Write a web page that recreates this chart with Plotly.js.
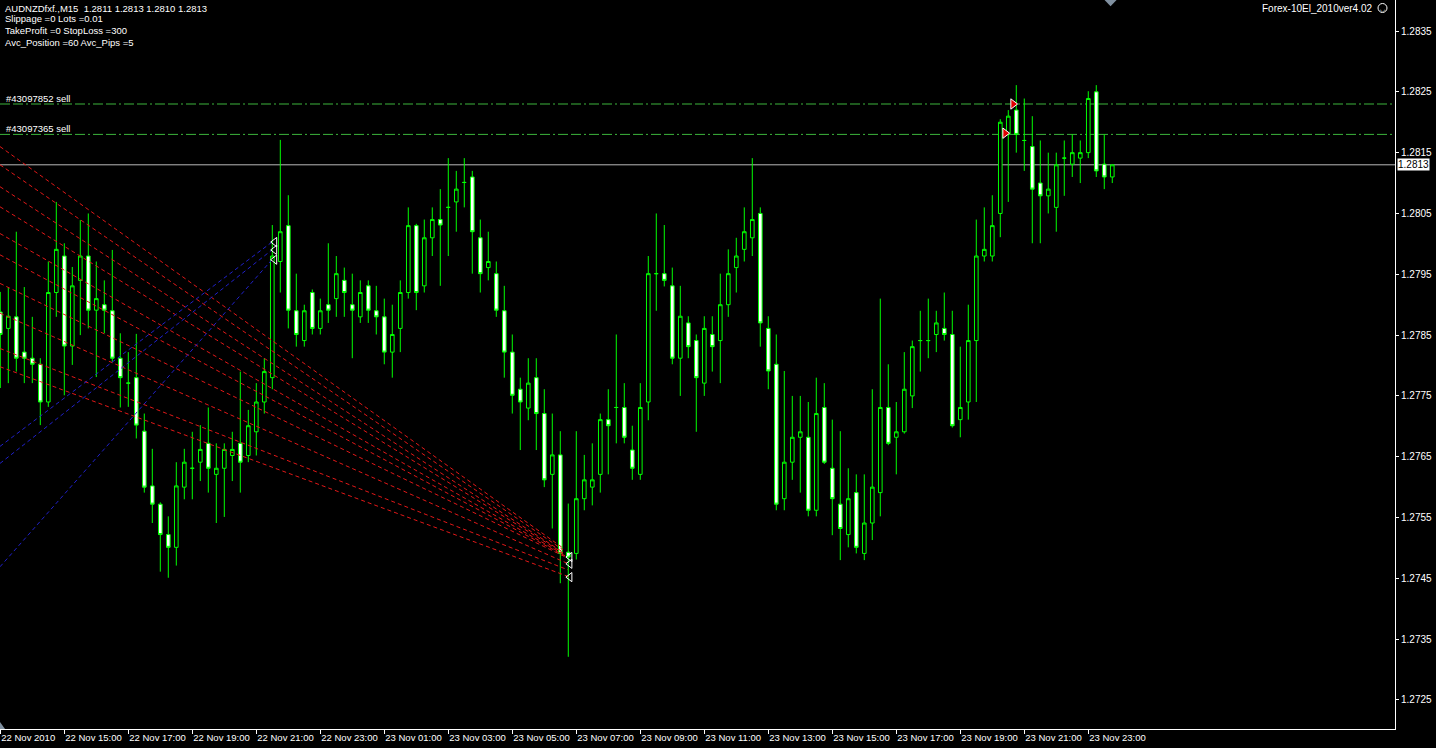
<!DOCTYPE html>
<html><head><meta charset="utf-8">
<script src="https://cdn.plot.ly/plotly-3.0.1.min.js"></script>
<style>html,body{margin:0;padding:0;background:#000;overflow:hidden}#chart{width:1436px;height:748px}</style>
</head><body><div id="chart"></div>
<script>
// ---- M15 candles, AUDNZDfxf., 22 Nov 13:00 .. 23 Nov 23:45 ----
const open = [1.27888,1.27861,1.27880,1.27822,1.27812,1.27802,1.27740,1.27920,1.27980,1.27832,
1.27940,1.27980,1.27891,1.27900,1.27890,1.27812,1.27771,1.27780,1.27692,1.27602,
1.27572,1.27522,1.27501,1.27600,1.27631,1.27641,1.27672,1.27621,1.27631,1.27652,
1.27672,1.27652,1.27691,1.27740,1.27780,1.27971,1.28030,1.27890,1.27841,1.27920,
1.27861,1.27900,1.27910,1.27940,1.27900,1.27880,1.27931,1.27890,1.27880,1.27822,
1.27861,1.27920,1.28030,1.27931,1.28010,1.28040,1.28060,1.28069,1.28101,1.28110,
1.28010,1.27961,1.27951,1.27890,1.27822,1.27761,1.27730,1.27780,1.27721,1.27621,
1.27653,1.27493,1.27491,1.27581,1.27600,1.27621,1.27711,1.27731,1.27731,1.27661,
1.27621,1.27740,1.27951,1.27951,1.27931,1.27812,1.27870,1.27841,1.27771,1.27851,
1.27841,1.27900,1.27961,1.27991,1.28010,1.28050,1.27861,1.27802,1.27581,1.27641,
1.27682,1.27682,1.27562,1.27731,1.27631,1.27572,1.27522,1.27591,1.27491,1.27541,
1.27591,1.27731,1.27682,1.27691,1.27750,1.27841,1.27841,1.27851,1.27861,1.27851,
1.27711,1.27740,1.27841,1.27980,1.27980,1.28050,1.28180,1.28220,1.28170,1.28160,
1.28100,1.28079,1.28060,1.28141,1.28131,1.28141,1.28150,1.28250,1.28131,1.28110];
const high = [1.27921,1.27929,1.28020,1.27929,1.27880,1.27812,1.27971,1.28069,1.28001,1.27962,
1.28039,1.28050,1.27971,1.27940,1.27990,1.27853,1.27822,1.27852,1.27721,1.27663,
1.27575,1.27552,1.27641,1.27663,1.27691,1.27702,1.27731,1.27672,1.27672,1.27691,
1.27790,1.27727,1.27771,1.27812,1.28031,1.28171,1.28080,1.27951,1.27900,1.27925,
1.27910,1.28001,1.27980,1.27961,1.27951,1.27940,1.27940,1.27931,1.27910,1.27900,
1.27940,1.28060,1.28033,1.28040,1.28060,1.28090,1.28141,1.28120,1.28141,1.28120,
1.28040,1.28020,1.27971,1.27931,1.27851,1.27780,1.27812,1.27812,1.27761,1.27721,
1.27692,1.27573,1.27692,1.27653,1.27672,1.27721,1.27761,1.27851,1.27771,1.27701,
1.27771,1.27980,1.28050,1.28031,1.27961,1.27931,1.27881,1.27851,1.27881,1.27881,
1.27951,1.27991,1.28010,1.28060,1.28141,1.28060,1.27881,1.27851,1.27791,1.27750,
1.27750,1.27740,1.27780,1.27771,1.27711,1.27692,1.27631,1.27621,1.27621,1.27761,
1.27910,1.27802,1.27740,1.27822,1.27841,1.27890,1.27910,1.27890,1.27920,1.27890,
1.27831,1.27900,1.28040,1.28060,1.28080,1.28205,1.28220,1.28261,1.28239,1.28210,
1.28170,1.28150,1.28150,1.28170,1.28180,1.28170,1.28251,1.28261,1.28180,1.28130];
const low = [1.27763,1.27771,1.27790,1.27771,1.27771,1.27702,1.27732,1.27880,1.27751,1.27801,
1.27850,1.27861,1.27781,1.27853,1.27806,1.27731,1.27732,1.27680,1.27591,1.27541,
1.27461,1.27451,1.27471,1.27580,1.27580,1.27610,1.27591,1.27541,1.27551,1.27610,
1.27591,1.27641,1.27652,1.27721,1.27761,1.27920,1.27861,1.27831,1.27831,1.27851,
1.27851,1.27870,1.27880,1.27880,1.27812,1.27870,1.27870,1.27851,1.27802,1.27780,
1.27822,1.27910,1.27891,1.27920,1.27980,1.27931,1.27980,1.28020,1.28060,1.27951,
1.27920,1.27940,1.27880,1.27780,1.27721,1.27661,1.27710,1.27661,1.27600,1.27532,
1.27442,1.27321,1.27481,1.27562,1.27570,1.27591,1.27621,1.27672,1.27672,1.27612,
1.27612,1.27710,1.27890,1.27930,1.27802,1.27750,1.27812,1.27691,1.27750,1.27790,
1.27771,1.27880,1.27920,1.27971,1.27980,1.27831,1.27761,1.27562,1.27562,1.27612,
1.27591,1.27552,1.27552,1.27638,1.27521,1.27480,1.27501,1.27491,1.27480,1.27513,
1.27552,1.27669,1.27621,1.27688,1.27730,1.27790,1.27812,1.27822,1.27841,1.27698,
1.27682,1.27711,1.27740,1.27971,1.27971,1.28011,1.28069,1.28150,1.28120,1.28001,
1.28001,1.28050,1.28020,1.28079,1.28110,1.28100,1.28141,1.28110,1.28090,1.28100];
const close = [1.27851,1.27881,1.27812,1.27812,1.27802,1.27740,1.27920,1.27991,1.27832,1.27931,
1.27980,1.27891,1.27910,1.27891,1.27812,1.27780,1.27771,1.27702,1.27600,1.27572,
1.27522,1.27501,1.27602,1.27641,1.27631,1.27662,1.27631,1.27631,1.27662,1.27662,
1.27641,1.27701,1.27740,1.27790,1.27980,1.28020,1.27891,1.27851,1.27890,1.27861,
1.27890,1.27891,1.27951,1.27920,1.27891,1.27920,1.27891,1.27880,1.27822,1.27851,
1.27920,1.28030,1.27920,1.28010,1.28040,1.28031,1.28060,1.28090,1.28101,1.28020,
1.27951,1.27971,1.27891,1.27822,1.27751,1.27740,1.27771,1.27721,1.27612,1.27653,
1.27491,1.27485,1.27581,1.27612,1.27612,1.27711,1.27701,1.27731,1.27682,1.27631,
1.27731,1.27951,1.27951,1.27940,1.27812,1.27881,1.27831,1.27780,1.27861,1.27831,
1.27900,1.27951,1.27980,1.28020,1.28040,1.27870,1.27791,1.27572,1.27641,1.27682,
1.27691,1.27562,1.27721,1.27641,1.27581,1.27532,1.27581,1.27501,1.27541,1.27600,
1.27731,1.27672,1.27691,1.27761,1.27831,1.27841,1.27841,1.27870,1.27851,1.27701,
1.27731,1.27841,1.27980,1.27991,1.28030,1.28200,1.28210,1.28180,1.28170,1.28090,
1.28079,1.28090,1.28130,1.28141,1.28150,1.28150,1.28239,1.28120,1.28110,1.28130];

// x-axis tick positions (bar numbers) and labels
const tickBars = [0,8,16,24,32,40,48,56,64,72,80,88,96,104,112,120,128,136];
const tickLabels = ["22 Nov 2010","22 Nov 15:00","22 Nov 17:00","22 Nov 19:00","22 Nov 21:00","22 Nov 23:00",
"23 Nov 01:00","23 Nov 03:00","23 Nov 05:00","23 Nov 07:00","23 Nov 09:00","23 Nov 11:00",
"23 Nov 13:00","23 Nov 15:00","23 Nov 17:00","23 Nov 19:00","23 Nov 21:00","23 Nov 23:00"];
const priceTicks = [1.2725,1.2735,1.2745,1.2755,1.2765,1.2775,1.2785,1.2795,1.2805,1.2815,1.2825,1.2835];
const priceTickText = ["1.2725","1.2735","1.2745","1.2755","1.2765","1.2775","1.2785","1.2795","1.2805","1.2815","1.2825","1.2835"];

// closed sell orders history lines (red) : start bar/price -> end bar/price
const redStartBar = [-0.04,-0.04,-0.04,-0.04,-0.04,-0.04,-0.04,-0.04,-0.04,-0.04];
const redStartPrice = [1.28160,1.28130,1.28094,1.28061,1.28017,1.27982,1.27935,1.27886,1.27828,1.27798];
const redEndBar = [70.33,70.33,70.33,70.33,70.59,70.59,70.84,70.84,70.96,71.21];
const redEndPrice = [1.27500,1.27497,1.27493,1.27492,1.27488,1.27487,1.27484,1.27475,1.27464,1.27452];
// closed buy orders history lines (blue)
const blueStartBar = [-0.04,-0.04,-0.04];
const blueStartPrice = [1.27667,1.27639,1.27469];
const blueEndBar = [33.96,33.96,33.96];
const blueEndPrice = [1.28003,1.27990,1.27974];
// close markers (left triangles)
const closeMarkBar = [34.3,34.3,34.3,71.2,71.2,71.2];
const closeMarkPrice = [1.28003,1.27990,1.27974,1.27485,1.27474,1.27452];
// open sell markers (red arrows)
const sellMarkBar = [125.6,126.6];
const sellMarkPrice = [1.28182,1.28230];
// open orders
const orderPrices = [1.2823,1.2818];
const orderLabels = ["#43097852 sell","#43097365 sell"];
const bidPrice = 1.2813;
const headerLines = ["AUDNZDfxf.,M15  1.2811 1.2813 1.2810 1.2813","Slippage =0 Lots =0.01","TakeProfit =0 StopLoss =300","Avc_Position =60 Avc_Pips =5"];
const expertName = "Forex-10El_2010ver4.02";

const FONT = '"Liberation Sans", Arial, sans-serif';
const barIndex = open.map((_, i) => i);
const traces = [];

for (let k = 0; k < redStartBar.length; k++) {
  traces.push({type:'scatter', mode:'lines', x:[redStartBar[k], redEndBar[k]], y:[redStartPrice[k], redEndPrice[k]],
    line:{color:'#e01818', width:1, dash:'4px,3px'}, hoverinfo:'skip', showlegend:false});
}
for (let k = 0; k < blueStartBar.length; k++) {
  traces.push({type:'scatter', mode:'lines', x:[blueStartBar[k], blueEndBar[k]], y:[blueStartPrice[k], blueEndPrice[k]],
    line:{color:'#2020c8', width:1, dash:'4px,3px'}, hoverinfo:'skip', showlegend:false});
}
traces.push({type:'candlestick', x:barIndex, open:open, high:high, low:low, close:close,
  increasing:{line:{color:'#00ff00', width:1}, fillcolor:'#000000'},
  decreasing:{line:{color:'#00ff00', width:1}, fillcolor:'#ffffff'},
  whiskerwidth:0, hoverinfo:'skip', showlegend:false});
traces.push({type:'scatter', mode:'markers', x:closeMarkBar, y:closeMarkPrice,
  marker:{symbol:'triangle-left-open', size:8, color:'#ffffff', line:{width:1, color:'#ffffff'}}, hoverinfo:'skip', showlegend:false});
traces.push({type:'scatter', mode:'markers', x:sellMarkBar, y:sellMarkPrice,
  marker:{symbol:'triangle-right', size:9, color:'#e00000', line:{width:1, color:'#ffffff'}}, hoverinfo:'skip', showlegend:false});

const shapes = [];
orderPrices.forEach(p => shapes.push({type:'line', xref:'paper', x0:0, x1:1, yref:'y', y0:p, y1:p,
  line:{color:'#3cb43c', width:1, dash:'10px,3px,10px,3px,2px,3px'}, layer:'below'}));
shapes.push({type:'line', xref:'paper', x0:0, x1:1, yref:'y', y0:bidPrice, y1:bidPrice,
  line:{color:'#b8b8b8', width:1}, layer:'below'});
// chart shift marker (top) and scroll marker (bottom left)
shapes.push({type:'path', xref:'paper', yref:'paper', path:'M 0.7918 1 L 0.8004 1 L 0.7961 0.9915 Z', fillcolor:'#8090a0', line:{width:0}});
shapes.push({type:'path', xref:'paper', yref:'paper', path:'M 0 0.0095 L 0.0036 0 L 0 0 Z', fillcolor:'#8090a0', line:{width:0}});
// smiley next to expert name
shapes.push({type:'circle', xref:'paper', yref:'paper', x0:(1378/1395), x1:(1387/1395), y0:1-12.5/729, y1:1-3.5/729,
  line:{color:'#ffffff', width:1}, fillcolor:'rgba(0,0,0,0)'});

const annotations = [];
const headerY = [8, 18, 30, 42];
headerLines.forEach((t, k) => annotations.push({xref:'paper', yref:'paper', x:0, y:1, xanchor:'left', yanchor:'middle',
  xshift:3, yshift:-headerY[k], text:t, showarrow:false, font:{family:FONT, size:9.5, color:'#ffffff'}}));
annotations.push({xref:'paper', yref:'paper', x:1, y:1, xanchor:'right', yanchor:'middle', xshift:-20, yshift:-8,
  text:expertName, showarrow:false, font:{family:FONT, size:10, color:'#ffffff'}});
annotations.push({xref:'paper', yref:'paper', x:(1382.5/1395), y:1, xanchor:'center', yanchor:'middle', yshift:-8,
  text:'\u25E1', showarrow:false, font:{family:'DejaVu Sans', size:6, color:'#ffffff'}});
orderPrices.forEach((p, k) => annotations.push({xref:'paper', yref:'y', x:0, y:p, xanchor:'left', yanchor:'bottom',
  xshift:4, yshift:-2, text:orderLabels[k], showarrow:false, font:{family:FONT, size:9.5, color:'#ffffff'}}));
annotations.push({xref:'paper', yref:'y', x:1, y:bidPrice, xanchor:'left', yanchor:'middle', xshift:2,
  text:bidPrice.toFixed(4), showarrow:false, bgcolor:'#ffffff', borderpad:0, font:{family:FONT, size:10, color:'#000000'}});

const layout = {
  width:1436, height:748,
  paper_bgcolor:'#000000', plot_bgcolor:'#000000',
  margin:{l:0, r:41, t:0, b:19},
  showlegend:false,
  boxgap:0.35,
  xaxis:{range:[-0.0375, 174.34], tickmode:'array', tickvals:tickBars, ticktext:tickLabels,
    ticks:'outside', ticklen:4, tickcolor:'#ffffff', ticklabelposition:'outside right', tickangle:0,
    showline:true, linecolor:'#ffffff', linewidth:1, showgrid:false, zeroline:false,
    tickfont:{family:FONT, size:9.5, color:'#ffffff'}, rangeslider:{visible:false}, fixedrange:true},
  yaxis:{side:'right', range:[1.272023, 1.28401], tickmode:'array', tickvals:priceTicks, ticktext:priceTickText,
    ticks:'outside', ticklen:3, tickcolor:'#ffffff', showline:true, linecolor:'#ffffff', linewidth:1,
    showgrid:false, zeroline:false, tickfont:{family:FONT, size:10, color:'#ffffff'}, fixedrange:true},
  shapes:shapes, annotations:annotations
};
Plotly.newPlot('chart', traces, layout, {staticPlot:true, displayModeBar:false});
</script></body></html>
